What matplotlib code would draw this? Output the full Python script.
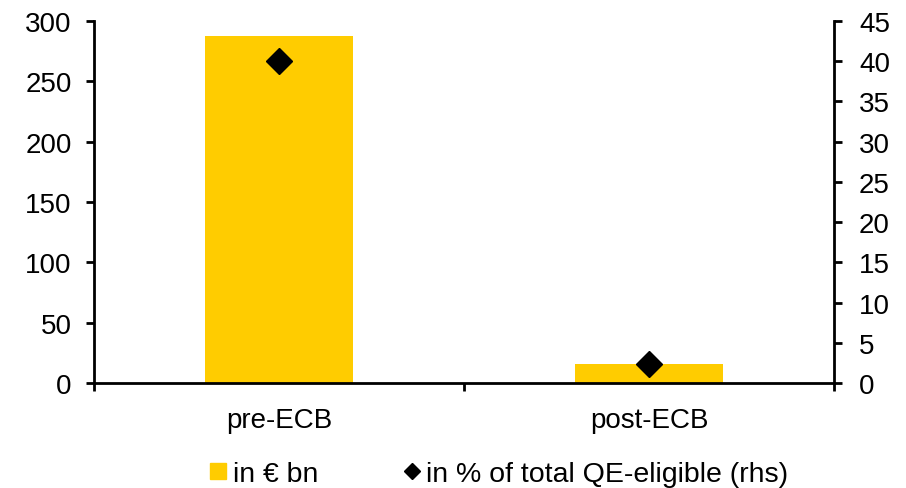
import matplotlib
matplotlib.use("Agg")
import matplotlib.pyplot as plt
from matplotlib.lines import Line2D

plt.rcParams['font.family'] = ['Liberation Sans', 'DejaVu Sans']

categories = ["pre-ECB", "post-ECB"]
bn_values = [287.3, 15.8]
pct_values = [40.0, 2.3]
bar_label = "in € bn"
pct_label = "in % of total QE-eligible (rhs)"

yellow = "#FFCC00"
fs = 20

fig = plt.figure(figsize=(9.06, 4.89), dpi=100)
ax = fig.add_axes([94/906, 1-384/489, (834-94)/906, (384-22)/489])
ax2 = ax.twinx()

x = list(range(len(categories)))
ax.bar(x, bn_values, width=0.4, color=yellow, zorder=2)
ax2.plot(x, pct_values, linestyle='none', marker='D', markersize=13, color='black', zorder=3)

ax.set_xlim(-0.5, 1.5)
ax.set_ylim(0, 300)
ax2.set_ylim(0, 45)
ax.set_yticks(range(0, 301, 50))
ax2.set_yticks(range(0, 46, 5))

ax.set_xticks(x)
ax.set_xticklabels(categories)
ax.set_xticks([-0.5, 0.5, 1.5], minor=True)
ax.tick_params(axis='x', which='major', length=0, pad=17, labelsize=fs)
ax.tick_params(axis='x', which='minor', length=6, width=2, direction='out')
ax.tick_params(axis='y', length=6, width=2, direction='out', labelsize=fs, pad=10)
ax2.tick_params(axis='y', length=6, width=2, direction='out', labelsize=fs, pad=12)

for a in (ax, ax2):
    a.spines['top'].set_visible(False)
    for s in ('left', 'right', 'bottom'):
        a.spines[s].set_linewidth(2)
ax.spines['right'].set_visible(False)
ax2.spines['left'].set_visible(False)
ax2.spines['bottom'].set_visible(False)

handles = [
    Line2D([], [], linestyle='none', marker='s', markersize=11, color=yellow),
    Line2D([], [], linestyle='none', marker='D', markersize=8, color='black'),
]
fig.legend(handles, [bar_label, pct_label], loc='center', bbox_to_anchor=(499/906, 1-475/489),
           ncol=2, frameon=False, fontsize=20.5, handlelength=0.6, handletextpad=0.2,
           columnspacing=3.0)

fig.savefig("out.png", dpi=100)
